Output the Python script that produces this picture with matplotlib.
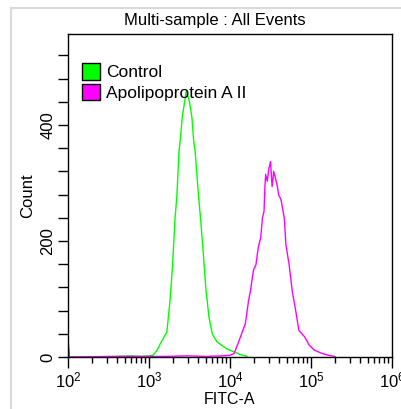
import matplotlib
matplotlib.use("Agg")
import matplotlib.pyplot as plt
from matplotlib.patches import Patch, Rectangle
from matplotlib.ticker import FixedLocator, LogLocator, NullFormatter

plt.rcParams['font.family'] = ['Liberation Sans', 'DejaVu Sans']

# histogram values (FITC-A, count)
control_x = [100, 104, 400, 600, 800, 1000, 1122, 1259, 1380, 1514, 1660, 1820,
             1950, 2090, 2213, 2344, 2455, 2570, 2754, 2884, 3020, 3162, 3388,
             3548, 3715, 4074, 4365, 4677, 5012, 5495, 6026, 6918, 7943, 9120,
             11220, 13490, 15490, 16600]
control_y = [26, 0, 1, 2, 1, 2, 3, 12, 23, 33, 43, 98,
             156, 236, 280, 354, 380, 413, 440, 458, 450, 440, 413,
             375, 354, 280, 233, 179, 121, 69, 40, 26, 20, 14,
             9, 4, 2, 0]

apo_x = [100, 104, 400, 1500, 3000, 5000, 8000, 10000, 11220, 12300, 13490, 15490,
         16980, 17780, 19500, 20890, 22390, 23990, 25120, 26300, 26920, 27540,
         28840, 30200, 31620, 33110, 34670, 36310, 38460, 39810, 42660, 46770,
         48980, 53700, 58880, 64570, 70790, 83180, 95500, 109600, 131800,
         162200, 195000, 200000]
apo_y = [28, 0, 1, 1, 2, 1, 2, 3, 6, 20, 35, 58,
         98, 112, 150, 159, 190, 206, 240, 251, 290, 315,
         303, 325, 337, 294, 320, 309, 294, 280, 271, 240,
         194, 159, 112, 81, 46, 35, 20, 12, 7,
         3, 1, 0]

series_names = ["Control", "Apolipoprotein A II"]
series_colors = ["#00ff00", "#ff00ff"]
y_labels = {0: "0", 200: "200", 400: "400"}

fig = plt.figure(figsize=(4.02, 4.09), dpi=100)
ax = fig.add_axes([68 / 402, 1 - 357 / 409, 324 / 402, 323 / 409])

ax.plot(control_x, control_y, color=series_colors[0], lw=1.0)
ax.plot(apo_x, apo_y, color=series_colors[1], lw=1.0)

ax.set_xscale("log")
ax.set_xlim(1e2, 1e6)
ax.set_ylim(0, 557)

ax.xaxis.set_major_locator(LogLocator(base=10, numticks=10))
ax.xaxis.set_minor_locator(LogLocator(base=10, subs=range(2, 10), numticks=50))
ax.xaxis.set_minor_formatter(NullFormatter())
ax.tick_params(axis='x', which='major', length=8, width=1, labelsize=12, pad=2)
ax.tick_params(axis='x', which='minor', length=4, width=1)

yt = list(range(0, 521, 40))
ax.yaxis.set_major_locator(FixedLocator(yt))
ax.set_yticklabels([y_labels.get(v, "") for v in yt], rotation=90, va='center')
ax.tick_params(axis='y', length=7, width=1, labelsize=12, pad=2)

for s in ax.spines.values():
    s.set_linewidth(1)

ax.set_xlabel("FITC-A", fontsize=11.5, labelpad=1)
ax.set_ylabel("Count", fontsize=12, labelpad=4)
fig.text(215 / 402, 1 - 21 / 409, "Multi-sample : All Events", ha='center',
         va='center', fontsize=12)

handles = [Patch(facecolor=c, edgecolor='black', lw=1) for c in series_colors]
ax.legend(handles, series_names, loc='upper left', bbox_to_anchor=(0.043, 0.91),
          frameon=False, fontsize=12.5, handlelength=1.05, handleheight=1.1,
          handletextpad=0.35, labelspacing=0.2, borderpad=0, borderaxespad=0)

# light grey outer frame of the screenshot
fig.add_artist(Rectangle((11 / 402, -0.1), 1.2, 1.1 - 8 / 409, transform=fig.transFigure,
                         fill=False, edgecolor='#d9d9d9', lw=1.5))

plt.savefig("out.png", dpi=100)
